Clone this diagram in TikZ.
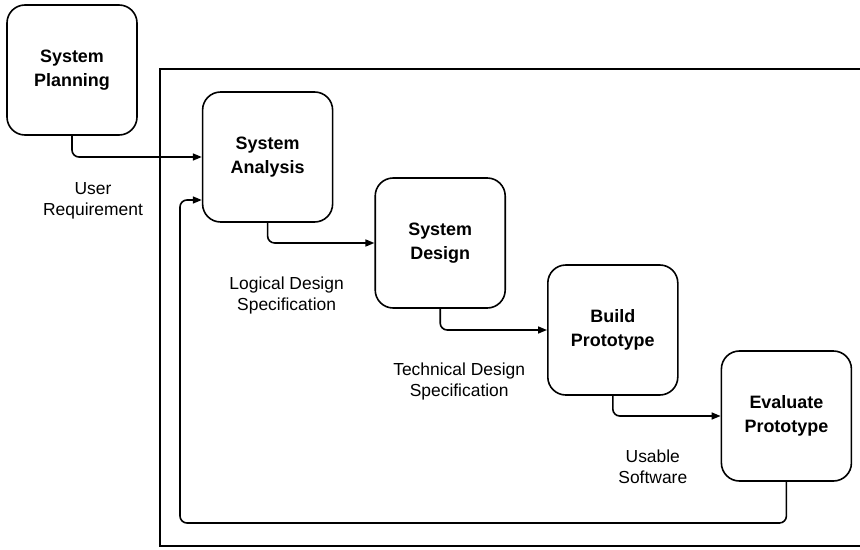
\documentclass[tikz,border=0pt]{standalone}
\usepackage{fontspec}
\setmainfont{Liberation Sans}
\usetikzlibrary{arrows.meta,positioning}
\tikzset{
  phase/.style ={draw, line width=1.6bp, rounded corners=18bp, align=center, minimum width=130bp, minimum height=130bp, font=\fontsize{18}{24}\selectfont\bfseries},
  note/.style  ={align=center, font=\fontsize{17.5}{21}\selectfont},
  flow/.style  ={-{Triangle[length=9bp,width=7bp]}, line width=1.6bp, rounded corners=7bp},
  frame/.style ={line width=1.6bp},
}

\begin{document}
\begin{tikzpicture}[x=1bp, y=-1bp]
  \useasboundingbox (0,0) rectangle (860,550);

  % ---- the phases, stepping down to the right ----
  \node[phase] (plan) at (72,70) {System\\Planning};
  \node[phase, right=64bp of plan, yshift=-87bp] (anal) {System\\Analysis};
  \node[phase, right=41bp of anal, yshift=-86bp] (des) {System\\Design};
  \node[phase, right=41bp of des, yshift=-87bp] (build) {Build\\Prototype};
  \node[phase, right=42bp of build, yshift=-86bp] (eval) {Evaluate\\Prototype};

  % ---- open frame round the prototyping loop ----
  \coordinate (ftr) at (875,69);
  \coordinate (ftl) at (160,69);
  \coordinate (fbl) at (160,546);
  \coordinate (fbr) at (875,546);
  \draw[frame] (ftr) -- (ftl) -- (fbl) -- (fbr);

  % ---- flow between the phases ----
  \draw[flow] (plan.south) |- (anal.west);
  \draw[flow] (anal.south) |- (des.west);
  \draw[flow] (des.south) |- (build.west);
  \draw[flow] (build.south) |- (eval.west);

  % ---- feedback from evaluation ----
  \coordinate (fb) at (180,523);
  \coordinate (back) at ([yshift=-43bp]anal.west);
  \draw[flow] (eval.south) |- (fb) |- (back);

  % ---- what is handed on ----
  \node[note, below=43bp of plan, xshift=21bp] (ureq) {User\\Requirement};
  \node[note, below=51bp of anal, xshift=19bp] (lds) {Logical Design\\Specification};
  \node[note, below=51bp of des, xshift=19bp] (tds) {Technical Design\\Specification};
  \node[note, below=51bp of build, xshift=40bp] (usw) {Usable\\Software};
\end{tikzpicture}
\end{document}
